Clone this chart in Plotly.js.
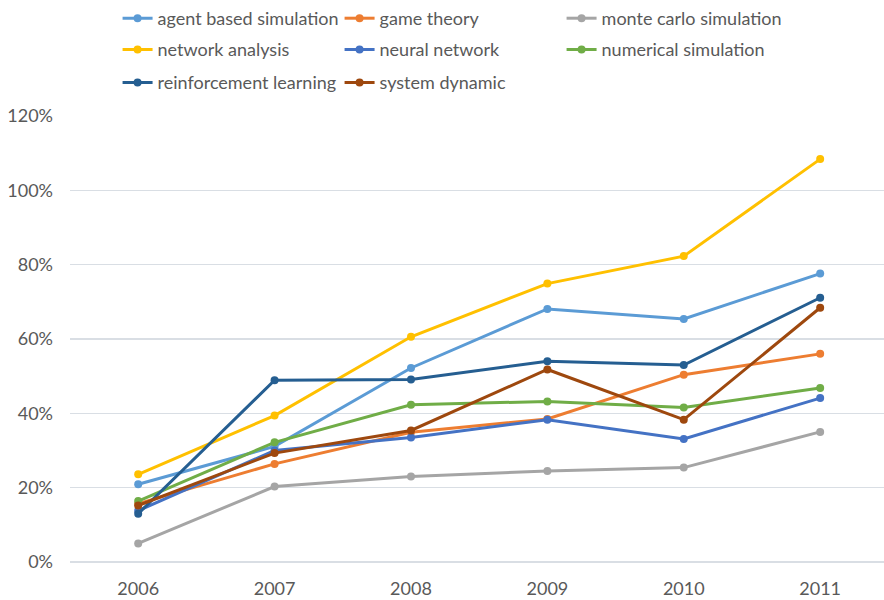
<!DOCTYPE html>
<html>
<head>
<meta charset="utf-8">
<script src="https://cdn.plot.ly/plotly-3.0.1.min.js"></script>
<style>
  html, body { margin: 0; padding: 0; background: #ffffff; }
  #chart { width: 884px; height: 600px; }
</style>
</head>
<body>
<div id="chart"></div>
<script>
// Years on the category axis
const years = ['2006', '2007', '2008', '2009', '2010', '2011'];

// Share per method and year (fractions, shown as percentages)
const agentBasedSimulation   = [0.209, 0.311, 0.522, 0.681, 0.654, 0.776];
const gameTheory             = [0.157, 0.264, 0.349, 0.385, 0.504, 0.560];
const monteCarloSimulation   = [0.050, 0.203, 0.230, 0.245, 0.254, 0.350];
const networkAnalysis        = [0.236, 0.394, 0.606, 0.749, 0.823, 1.084];
const neuralNetwork          = [0.138, 0.300, 0.335, 0.383, 0.331, 0.441];
const numericalSimulation    = [0.164, 0.322, 0.423, 0.432, 0.416, 0.468];
const reinforcementLearning  = [0.130, 0.489, 0.491, 0.540, 0.530, 0.711];
const systemDynamic          = [0.152, 0.293, 0.354, 0.518, 0.383, 0.684];

const seriesNames = [
  'agent based simulation', 'game theory', 'monte carlo simulation',
  'network analysis', 'neural network', 'numerical simulation',
  'reinforcement learning', 'system dynamic'
];
const seriesValues = [
  agentBasedSimulation, gameTheory, monteCarloSimulation,
  networkAnalysis, neuralNetwork, numericalSimulation,
  reinforcementLearning, systemDynamic
];
const seriesColors = [
  '#5B9BD5', '#ED7D31', '#A5A5A5', '#FFC000',
  '#4472C4', '#70AD47', '#255E91', '#9E480E'
];

const fontFamily = 'Lato, "Open Sans", sans-serif';
const textColor = '#595959';

// The legend is laid out as three rows of up to three entries; each row is its own legend.
const legendIds = ['legend', 'legend2', 'legend3'];

const traces = seriesNames.map((name, i) => ({
  type: 'scatter',
  mode: 'lines+markers',
  name: name,
  x: years,
  y: seriesValues[i],
  legend: legendIds[Math.floor(i / 3)],
  line: { color: seriesColors[i], width: 3 },
  marker: { color: seriesColors[i], size: 8, symbol: 'circle' }
}));

function legendRow(topFraction) {
  return {
    orientation: 'h',
    xref: 'container',
    yref: 'container',
    x: 0.133,
    xanchor: 'left',
    y: topFraction,
    yanchor: 'top',
    entrywidth: 177,
    entrywidthmode: 'pixels',
    font: { family: fontFamily, size: 18, color: textColor },
    bgcolor: 'rgba(0,0,0,0)',
    traceorder: 'normal'
  };
}

const layout = {
  width: 884,
  height: 600,
  paper_bgcolor: '#ffffff',
  plot_bgcolor: '#ffffff',
  margin: { l: 70, r: 0, t: 116, b: 38 },
  font: { family: fontFamily, size: 18, color: textColor },
  showlegend: true,
  legend: legendRow(1.0),
  legend2: legendRow(0.948),
  legend3: legendRow(0.893),
  xaxis: {
    type: 'category',
    range: [-0.5, 5.468],
    showgrid: false,
    zeroline: false,
    showline: false,
    ticks: '',
    ticklabelstandoff: 14,
    tickfont: { family: fontFamily, size: 18, color: textColor }
  },
  yaxis: {
    range: [0, 1.2],
    dtick: 0.2,
    tickformat: '.0%',
    showgrid: true,
    gridcolor: '#D9DEE4',
    gridwidth: 1.5,
    zeroline: true,
    zerolinecolor: '#D9DEE4',
    zerolinewidth: 1.5,
    showline: false,
    ticks: '',
    ticklabelstandoff: 16,
    tickfont: { family: fontFamily, size: 18, color: textColor }
  }
};

Plotly.newPlot('chart', traces, layout, { displayModeBar: false, staticPlot: true });
</script>
</body>
</html>
